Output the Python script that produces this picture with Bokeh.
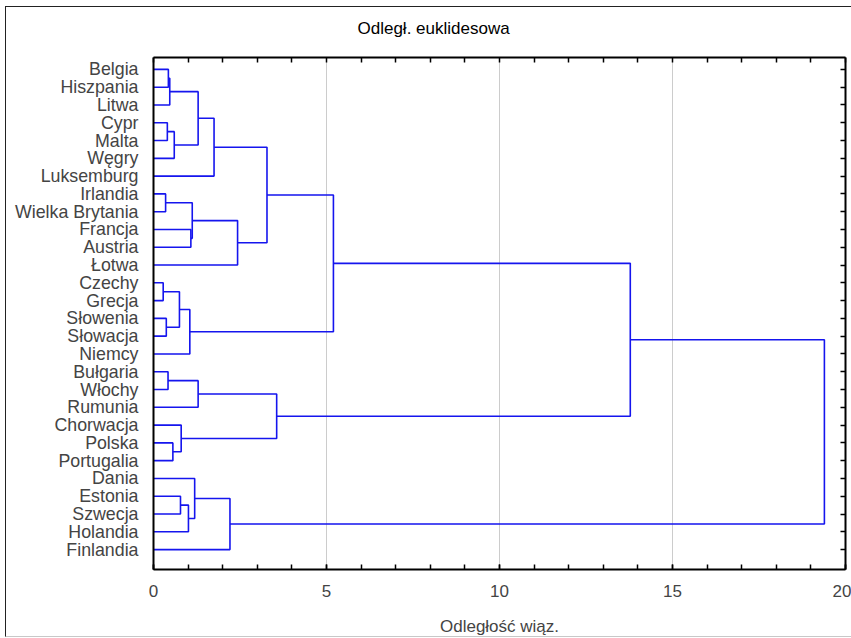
from bokeh.plotting import figure
from bokeh.models import Range1d, FixedTicker, LinearAxis, Label
from bokeh.embed import file_html
from bokeh.resources import INLINE

# ---- data ----
countries = ["Belgia", "Hiszpania", "Litwa", "Cypr", "Malta", "Węgry", "Luksemburg",
             "Irlandia", "Wielka Brytania", "Francja", "Austria", "Łotwa",
             "Czechy", "Grecja", "Słowenia", "Słowacja", "Niemcy",
             "Bułgaria", "Włochy", "Rumunia", "Chorwacja", "Polska", "Portugalia",
             "Dania", "Estonia", "Szwecja", "Holandia", "Finlandia"]

# linkage: indices < 28 are leaves, 28+k is the k-th merge
merge_left = [0, 28, 3, 30, 29, 32, 7, 9, 34, 36, 33, 12, 14, 39, 41, 38,
              17, 44, 21, 20, 45, 43, 24, 50, 23, 52, 49]
merge_right = [1, 2, 4, 5, 31, 6, 8, 10, 35, 11, 37, 13, 15, 40, 16, 42,
               18, 19, 22, 46, 47, 48, 25, 26, 51, 27, 53]
merge_height = [0.43, 0.47, 0.40, 0.60, 1.29, 1.75, 0.35, 1.08, 1.12, 2.43, 3.28,
                0.28, 0.37, 0.75, 1.05, 5.20, 0.42, 1.29, 0.56, 0.80, 3.56,
                13.78, 0.78, 1.01, 1.19, 2.21, 19.39]

x_tick_values = [0, 5, 10, 15, 20]
x_minor_values = list(range(0, 21))
title_text = "Odległ. euklidesowa"
x_label = "Odległość wiąz."

# ---- dendrogram geometry ----
n = len(countries)
pos = [float(i) for i in range(n)]
hgt = [0.0] * n
xs, ys = [], []
for a, b, h in zip(merge_left, merge_right, merge_height):
    ya, yb = pos[a], pos[b]
    xs.append([hgt[a], h, h, hgt[b]])
    ys.append([ya, ya, yb, yb])
    pos.append((ya + yb) / 2.0)
    hgt.append(h)

FONT = "Liberation Sans"
BL, BT, BR, BB = 147, 50, 7, 64
W, H = 846, 631

p = figure(width=W, height=H, output_backend="svg", toolbar_location=None,
           x_range=Range1d(0, 20), y_range=Range1d(n - 1 + 1.12, -0.67),
           x_axis_location="below", y_axis_location="left",
           min_border_left=BL, min_border_right=BR, min_border_top=BT,
           min_border_bottom=BB)
p.styles = {"margin-left": "5px", "margin-top": "6px",
            "border-left": "1px solid #222", "border-top": "1px solid #222",
            "border-bottom": "1px solid #c8c8c8", "box-sizing": "border-box"}

p.multi_line(xs=xs, ys=ys, line_color="#1515ee", line_width=1.6)

# grid
p.ygrid.visible = False
p.xgrid.ticker = FixedTicker(ticks=[5, 10, 15])
p.xgrid.grid_line_color = "#cccccc"
p.xgrid.grid_line_width = 1

# bottom axis
xa = p.xaxis[0]
xa.ticker = FixedTicker(ticks=x_tick_values, minor_ticks=x_minor_values)
xa.major_tick_in = 5
xa.major_tick_out = 0
xa.minor_tick_in = 5
xa.minor_tick_out = 0
xa.axis_line_width = 2
xa.major_tick_line_width = 1.5
xa.minor_tick_line_width = 1.5
xa.major_label_text_font = FONT
xa.major_label_text_font_size = "17px"
xa.major_label_standoff = 15
xa.axis_label = x_label
xa.axis_label_text_font = FONT
xa.axis_label_text_font_size = "17px"
xa.axis_label_text_font_style = "normal"
xa.axis_label_standoff = 17

# left axis
ya_ = p.yaxis[0]
ya_.ticker = FixedTicker(ticks=list(range(n)), minor_ticks=[])
ya_.major_label_overrides = {i: c for i, c in enumerate(countries)}
ya_.major_tick_in = 0
ya_.major_tick_out = 0
ya_.minor_tick_line_color = None
ya_.axis_line_width = 2
ya_.major_label_text_font = FONT
ya_.major_label_text_font_size = "17.8px"
ya_.major_label_standoff = 15

# top axis (ticks only)
top = LinearAxis(ticker=FixedTicker(ticks=[], minor_ticks=x_minor_values),
                 minor_tick_in=5, minor_tick_out=0, minor_tick_line_width=1.5,
                 major_tick_line_color=None, axis_line_width=2,
                 major_label_standoff=0)
p.above = [top]

# right axis (ticks only)
right = LinearAxis(ticker=FixedTicker(ticks=[], minor_ticks=list(range(n))),
                   minor_tick_in=5, minor_tick_out=0, minor_tick_line_width=1.5,
                   major_tick_line_color=None, axis_line_width=2,
                   major_label_standoff=0)
p.add_layout(right, "right")

# title as a label in the top panel
title = Label(x=204, y=29, x_units="screen", y_units="screen",
              text=title_text, text_font=FONT, text_font_size="17px",
              text_color="black", text_align="left", text_baseline="middle")
p.add_layout(title, "above")

p.outline_line_color = None

open("out.html", "w").write(file_html(p, INLINE))
